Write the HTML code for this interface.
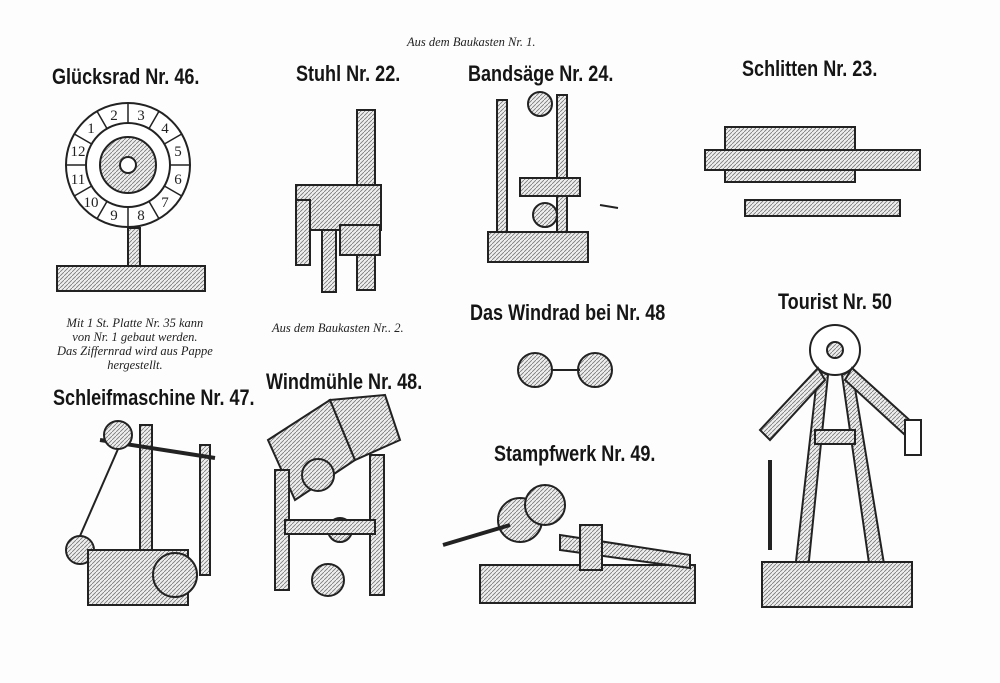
<!DOCTYPE html>
<html><head><meta charset="utf-8"><style>
body{margin:0;background:#fff}
#p{position:relative;width:1000px;height:683px;overflow:hidden;background:#fdfdfd}
.t{position:absolute;font-family:"Liberation Sans Narrow","Liberation Sans",sans-serif;font-weight:bold;font-size:22px;color:#151515;white-space:nowrap;transform-origin:0 0;transform:scaleX(0.82)}
.i{position:absolute;font-family:"Liberation Serif",serif;font-style:italic;font-size:12.5px;color:#222;white-space:nowrap}
svg{position:absolute;left:0;top:0}
</style></head><body><div id="p">
<svg width="1000" height="683" viewBox="0 0 1000 683">
<defs><pattern id="h" width="4" height="4" patternUnits="userSpaceOnUse"><rect width="4" height="4" fill="#eee"/><path d="M0 4L4 0" stroke="#777" stroke-width="0.8"/></pattern></defs>
<g stroke="#222" stroke-width="2" fill="url(#h)">
<!-- Gluecksrad -->
<circle cx="128" cy="165" r="62" fill="#fff"/><circle cx="128" cy="165" r="42" fill="#fff"/><circle cx="128" cy="165" r="28"/><circle cx="128" cy="165" r="8" fill="#fff"/>
<g stroke-width="1.5">
<line x1="107" y1="128.6" x2="97" y2="111.3"/><line x1="128" y1="123" x2="128" y2="103"/><line x1="149" y1="128.6" x2="159" y2="111.3"/><line x1="164.4" y1="144" x2="181.7" y2="134"/><line x1="170" y1="165" x2="190" y2="165"/><line x1="164.4" y1="186" x2="181.7" y2="196"/><line x1="149" y1="201.4" x2="159" y2="218.7"/><line x1="128" y1="207" x2="128" y2="227"/><line x1="107" y1="201.4" x2="97" y2="218.7"/><line x1="91.6" y1="186" x2="74.3" y2="196"/><line x1="86" y1="165" x2="66" y2="165"/><line x1="91.6" y1="144" x2="74.3" y2="134"/>
</g>
<rect x="128" y="228" width="12" height="40"/><rect x="57" y="266" width="148" height="25"/>
<!-- Stuhl -->
<rect x="357" y="110" width="18" height="180"/><rect x="296" y="185" width="85" height="45"/><rect x="322" y="230" width="14" height="62"/><rect x="296" y="200" width="14" height="65"/><rect x="340" y="225" width="40" height="30"/>
<!-- Bandsaege -->
<rect x="497" y="100" width="10" height="140"/><rect x="557" y="95" width="10" height="145"/><rect x="488" y="232" width="100" height="30"/><circle cx="540" cy="104" r="12"/><circle cx="545" cy="215" r="12"/><rect x="520" y="178" width="60" height="18"/><line x1="600" y1="205" x2="618" y2="208"/>
<!-- Schlitten -->
<rect x="725" y="127" width="130" height="55"/><rect x="705" y="150" width="215" height="20"/><rect x="745" y="200" width="155" height="16"/>
<!-- Windrad -->
<circle cx="535" cy="370" r="17"/><circle cx="595" cy="370" r="17"/><line x1="552" y1="370" x2="580" y2="370"/>
<!-- Tourist -->
<circle cx="835" cy="350" r="25" fill="#fff"/><circle cx="835" cy="350" r="8"/>
<polygon points="818,370 828,375 808,570 795,570"/><polygon points="852,370 842,375 870,570 885,570"/>
<polygon points="818,368 760,430 770,440 825,380"/><polygon points="852,368 915,425 905,435 845,380"/>
<rect x="815" y="430" width="40" height="14"/><rect x="905" y="420" width="16" height="35" fill="#fff"/><line x1="770" y1="460" x2="770" y2="550" stroke-width="4"/>
<rect x="762" y="562" width="150" height="45"/>
<!-- Schleifmaschine -->
<rect x="140" y="425" width="12" height="175"/><rect x="200" y="445" width="10" height="130"/><line x1="100" y1="440" x2="215" y2="458" stroke-width="4"/><circle cx="118" cy="435" r="14"/><circle cx="80" cy="550" r="14"/><line x1="118" y1="449" x2="80" y2="536"/><rect x="88" y="550" width="100" height="55"/><circle cx="175" cy="575" r="22"/>
<!-- Windmuehle -->
<polygon points="268,440 330,400 355,460 295,500"/><polygon points="330,400 385,395 400,440 355,460"/><rect x="275" y="470" width="14" height="120"/><rect x="370" y="455" width="14" height="140"/><circle cx="318" cy="475" r="16"/><circle cx="340" cy="530" r="12"/><circle cx="328" cy="580" r="16"/><rect x="285" y="520" width="90" height="14"/>
<!-- Stampfwerk -->
<circle cx="520" cy="520" r="22"/><circle cx="545" cy="505" r="20"/><rect x="480" y="565" width="215" height="38"/><polygon points="560,535 690,555 690,568 560,550"/><rect x="580" y="525" width="22" height="45"/><line x1="443" y1="545" x2="510" y2="525" stroke-width="4"/>
</g>
<g font-family="Liberation Serif,serif" font-size="15" fill="#222" text-anchor="middle">
<text x="91" y="133">1</text><text x="114" y="120">2</text><text x="141" y="120">3</text><text x="165" y="133">4</text><text x="178" y="156">5</text><text x="178" y="184">6</text><text x="165" y="207">7</text><text x="141" y="220">8</text><text x="114" y="220">9</text><text x="91" y="207">10</text><text x="78" y="184">11</text><text x="78" y="156">12</text>
</g>
</svg>
<div class="i" style="left:407px;top:35px">Aus dem Baukasten Nr. 1.</div>
<div class="t" style="left:52px;top:64px">Glücksrad Nr. 46.</div>
<div class="t" style="left:296px;top:61px">Stuhl Nr. 22.</div>
<div class="t" style="left:468px;top:61px">Bandsäge Nr. 24.</div>
<div class="t" style="left:742px;top:56px">Schlitten Nr. 23.</div>
<div class="i" style="left:57px;top:316px;text-align:center;line-height:14px">Mit 1 St. Platte Nr. 35 kann<br>von Nr. 1 gebaut werden.<br>Das Ziffernrad wird aus Pappe<br>hergestellt.</div>
<div class="i" style="left:272px;top:321px">Aus dem Baukasten Nr.. 2.</div>
<div class="t" style="left:470px;top:300px">Das Windrad bei Nr. 48</div>
<div class="t" style="left:778px;top:289px">Tourist Nr. 50</div>
<div class="t" style="left:53px;top:385px">Schleifmaschine Nr. 47.</div>
<div class="t" style="left:266px;top:369px">Windmühle Nr. 48.</div>
<div class="t" style="left:494px;top:441px">Stampfwerk Nr. 49.</div>
</div></body></html>
